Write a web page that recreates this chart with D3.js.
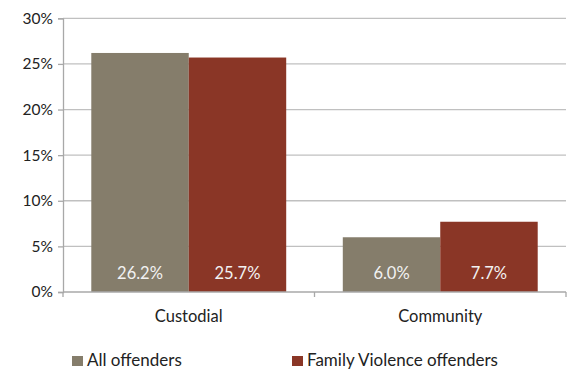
<!DOCTYPE html>
<html>
<head>
<meta charset="utf-8">
<script src="https://cdn.jsdelivr.net/npm/d3@7"></script>
<style>
  html, body { margin: 0; padding: 0; background: #fff; }
  svg { display: block; }
  text { font-family: Lato, "Open Sans", "Liberation Sans", sans-serif; }
</style>
</head>
<body>
<svg id="chart" width="570" height="372"></svg>
<script>
// Sentence type shares by offender group
const categories = ["Custodial", "Community"];
const seriesNames = ["All offenders", "Family Violence offenders"];
const allOffenders = [26.2, 6.0];
const familyViolence = [25.7, 7.7];
const yTicks = [0, 5, 10, 15, 20, 25, 30];
const colors = ["#857d6b", "#8a3626"];

const series = [allOffenders, familyViolence];

const svg = d3.select("#chart");
const plotLeft = 63, plotRight = 566, plotTop = 18.3, plotBottom = 292;

const x0 = d3.scaleBand().domain(categories).range([plotLeft, plotRight])
  .paddingInner(0.225).paddingOuter(0.1125);
const x1 = d3.scaleBand().domain(d3.range(series.length)).range([0, x0.bandwidth()]);
const y = d3.scaleLinear().domain([0, 30]).range([plotBottom, plotTop]);

// horizontal gridlines
svg.append("g").selectAll("line").data(yTicks.filter(d => d > 0)).join("line")
  .attr("x1", plotLeft).attr("x2", plotRight)
  .attr("y1", d => y(d)).attr("y2", d => y(d))
  .attr("stroke", "#c0c0c0").attr("stroke-width", 1.3);

// y axis
const yAxis = svg.append("g").attr("transform", `translate(${plotLeft},0)`)
  .call(d3.axisLeft(y).tickValues(yTicks).tickFormat(d => d + "%").tickSize(5).tickPadding(5));
yAxis.select(".domain").attr("stroke", "#a8a8a8").attr("stroke-width", 1.3);
yAxis.selectAll(".tick line").attr("stroke", "#a8a8a8").attr("stroke-width", 1.3);
yAxis.selectAll(".tick text").attr("font-size", 15.5).attr("fill", "#222")
  .attr("font-family", "Lato, 'Open Sans', sans-serif");

// bars
const groups = svg.append("g").selectAll("g").data(categories).join("g")
  .attr("transform", c => `translate(${x0(c)},0)`);
groups.selectAll("rect").data((c, i) => series.map((s, j) => ({ j, v: s[i] }))).join("rect")
  .attr("x", d => x1(d.j)).attr("width", x1.bandwidth())
  .attr("y", d => y(d.v)).attr("height", d => y(0) - y(d.v))
  .attr("fill", d => colors[d.j]);
groups.selectAll("text").data((c, i) => series.map((s, j) => ({ j, v: s[i] }))).join("text")
  .attr("x", d => x1(d.j) + x1.bandwidth() / 2).attr("y", 279)
  .attr("text-anchor", "middle").attr("font-size", 16.5).attr("fill", "#f2f2f2")
  .text(d => d.v.toFixed(1) + "%");

// x axis
const xAxis = svg.append("g").attr("transform", `translate(0,${plotBottom})`);
xAxis.append("line").attr("x1", plotLeft).attr("x2", plotRight)
  .attr("stroke", "#a8a8a8").attr("stroke-width", 1.3);
const boundaries = [plotLeft, ...categories.slice(1).map(c => x0(c) - x0.step() * 0.225 / 2), plotRight];
xAxis.selectAll("line.tk").data(boundaries).join("line").attr("class", "tk")
  .attr("x1", d => d).attr("x2", d => d).attr("y1", 0).attr("y2", 5)
  .attr("stroke", "#a8a8a8").attr("stroke-width", 1.3);
xAxis.selectAll("text").data(categories).join("text")
  .attr("x", c => x0(c) + x0.bandwidth() / 2).attr("y", 30)
  .attr("text-anchor", "middle").attr("font-size", 16.5).attr("fill", "#222")
  .text(c => c);

// legend
const legendX = [72, 292];
const legend = svg.append("g").selectAll("g").data(seriesNames).join("g")
  .attr("transform", (d, i) => `translate(${legendX[i]},356)`);
legend.append("rect").attr("width", 11).attr("height", 10).attr("fill", (d, i) => colors[i]);
legend.append("text").attr("x", 15).attr("y", 10).attr("font-size", 17).attr("fill", "#222")
  .text(d => d);
</script>
</body>
</html>
